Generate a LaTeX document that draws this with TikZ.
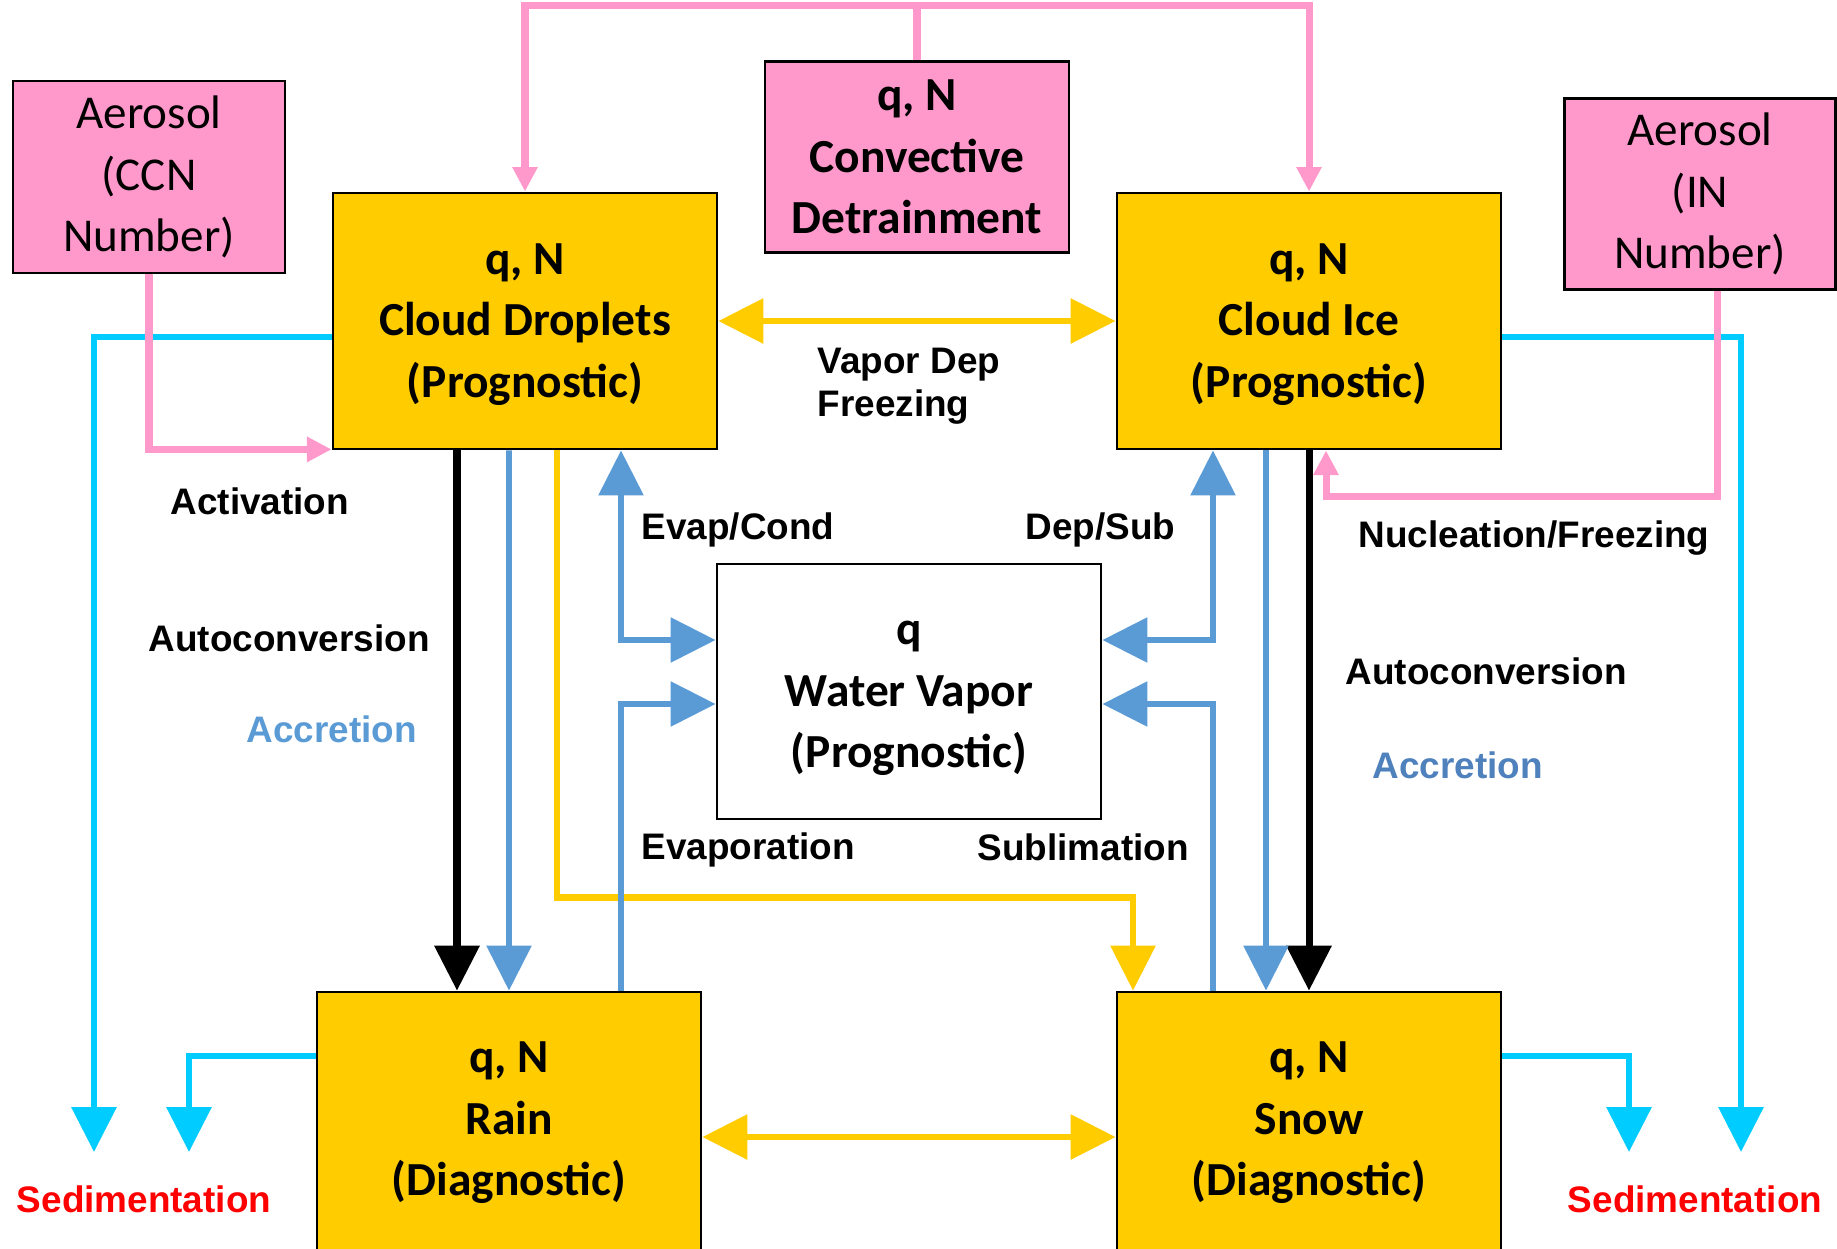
\documentclass[tikz,border=0pt]{standalone}
\usepackage{fontspec}
\setmainfont{Carlito}
\newfontfamily\labelfont{Liberation Sans}
\usetikzlibrary{arrows.meta,positioning}
\definecolor{boxgold}{HTML}{FFCC00}
\definecolor{pinkfill}{HTML}{FF99CC}
\definecolor{flowblue}{HTML}{5B9BD5}
\definecolor{accdark}{HTML}{4F81BD}
\definecolor{sedcyan}{HTML}{00CCFF}
\newcommand{\topstrut}{\rule{0pt}{10.7pt}}

\begin{document}
\begin{tikzpicture}[x=0.1mm, y=-0.1mm,
>={Triangle[length=12.8pt,width=12.5pt]},
species/.style={rectangle, draw, line width=0.8pt, fill=boxgold, inner sep=0pt, minimum width=38.4mm, minimum height=25.6mm, align=center, font=\bfseries\fontsize{13.5}{17.5}\selectfont},
source/.style={rectangle, draw, line width=0.8pt, fill=pinkfill, inner sep=0pt, align=center, font=\fontsize{13.4}{17.5}\selectfont},
proc/.style={anchor=west, inner sep=0pt, font=\labelfont\bfseries\fontsize{10.5}{12.2}\selectfont},
goldflow/.style={draw=boxgold, line width=1.8pt},
blueflow/.style={draw=flowblue, line width=1.7pt},
blackflow/.style={draw=black, line width=2pt, ->},
sedflow/.style={draw=sedcyan, line width=1.9pt, ->},
pinkflow/.style={draw=pinkfill, line width=2pt, -{Triangle[length=7pt,width=6.8pt]}}
]
\useasboundingbox (0,0) rectangle (1837,1248);
\node[species] (drop) at (525,321) {\topstrut q, N\\Cloud Droplets\\(Prognostic)};
\node[species] (ice) at (1309,321) {\topstrut q, N\\Cloud Ice\\(Prognostic)};
\node[species, minimum height=26.2mm] (rain) at (509,1123) {q, N\\Rain\\(Diagnostic)};
\node[species, minimum height=26.2mm] (snow) at (1309,1123) {q, N\\Snow\\(Diagnostic)};
\node[species, fill=white, minimum height=25.5mm] (vapor) at (909,691.5) {\topstrut q\\Water Vapor\\(Prognostic)};
\node[source, minimum width=30.4mm, minimum height=19.1mm, font=\bfseries\fontsize{13.5}{17.5}\selectfont] (detrain) at (917,157) {q, N\\Convective\\Detrainment};
\node[source, minimum width=27.2mm, minimum height=19.2mm] (ccn) at (149,177) {Aerosol\\(CCN\\Number)};
\node[source, minimum width=27.1mm, minimum height=19.1mm] (innum) at (1700,194) {Aerosol\\(IN\\Number)};

\coordinate (sedA) at (94,1152);
\coordinate (sedB) at (189,1152);
\coordinate (sedC) at (1629,1152);
\coordinate (sedD) at (1741,1152);
\draw[sedflow] ([yshift=-1.6mm]drop.west) -| (sedA);
\draw[sedflow] ([yshift=6.7mm]rain.west) -| (sedB);
\draw[sedflow] ([yshift=6.7mm]snow.east) -| (sedC);
\draw[sedflow] ([yshift=-1.6mm]ice.east) -| (sedD);

\draw[pinkflow] (detrain.north) -- ++(0,-55) -| (drop.north);
\draw[pinkflow] (detrain.north) -- ++(0,-55) -| (ice.north);
\draw[pinkflow] (ccn.south) |- ([yshift=0.1mm]drop.south west);
\draw[pinkflow] ([xshift=1.7mm]innum.south) -- ++(0,206) -| ([xshift=1.7mm]ice.south);

\draw[goldflow, <->] (drop.east) -- (ice.west);
\draw[goldflow, <->] ([yshift=-1.4mm]rain.east) -- ([yshift=-1.4mm]snow.west);
\draw[goldflow, ->] ([xshift=3.2mm]drop.south) -- ++(0,447) -| ([xshift=-17.6mm]snow.north);

\draw[blackflow] ([xshift=-6.8mm]drop.south) -- ([xshift=-6.8mm]drop.south |- rain.north);
\draw[blackflow] (ice.south) -- (snow.north);
\draw[blueflow, ->] ([xshift=-1.6mm]drop.south) -- (rain.north);
\draw[blueflow, ->] ([xshift=-4.3mm]ice.south) -- ([xshift=-4.3mm]snow.north);
\draw[blueflow, <->] ([xshift=9.6mm]drop.south) |- ([yshift=5.15mm]vapor.west);
\draw[blueflow, ->] ([xshift=11.2mm]rain.north) |- ([yshift=-1.25mm]vapor.west);
\draw[blueflow, <->] ([xshift=-9.6mm]ice.south) |- ([yshift=5.15mm]vapor.east);
\draw[blueflow, ->] ([xshift=-9.6mm]snow.north) |- ([yshift=-1.25mm]vapor.east);

\node[proc, align=left] (vapdep) at (817,386.5) {Vapor Dep\\Freezing};
\node[proc] (activ) at (170,501) {Activation};
\node[proc] (evcond) at (641,530) {Evap/Cond};
\node[proc] (depsub) at (1025,530) {Dep/Sub};
\node[proc] (nucl) at (1358,538) {Nucleation/Freezing};
\node[proc] (autoL) at (148,638) {Autoconversion};
\node[proc, text=flowblue] (accL) at (246,729) {Accretion};
\node[proc] (autoR) at (1345,671) {Autoconversion};
\node[proc, text=accdark] (accR) at (1372,765) {Accretion};
\node[proc] (evap) at (641,850) {Evaporation};
\node[proc] (subl) at (977,847) {Sublimation};
\node[proc, anchor=center, text=red] (sedL) at (144,1199) {Sedimentation};
\node[proc, anchor=center, text=red] (sedR) at (1695,1199) {Sedimentation};
\end{tikzpicture}
\end{document}
